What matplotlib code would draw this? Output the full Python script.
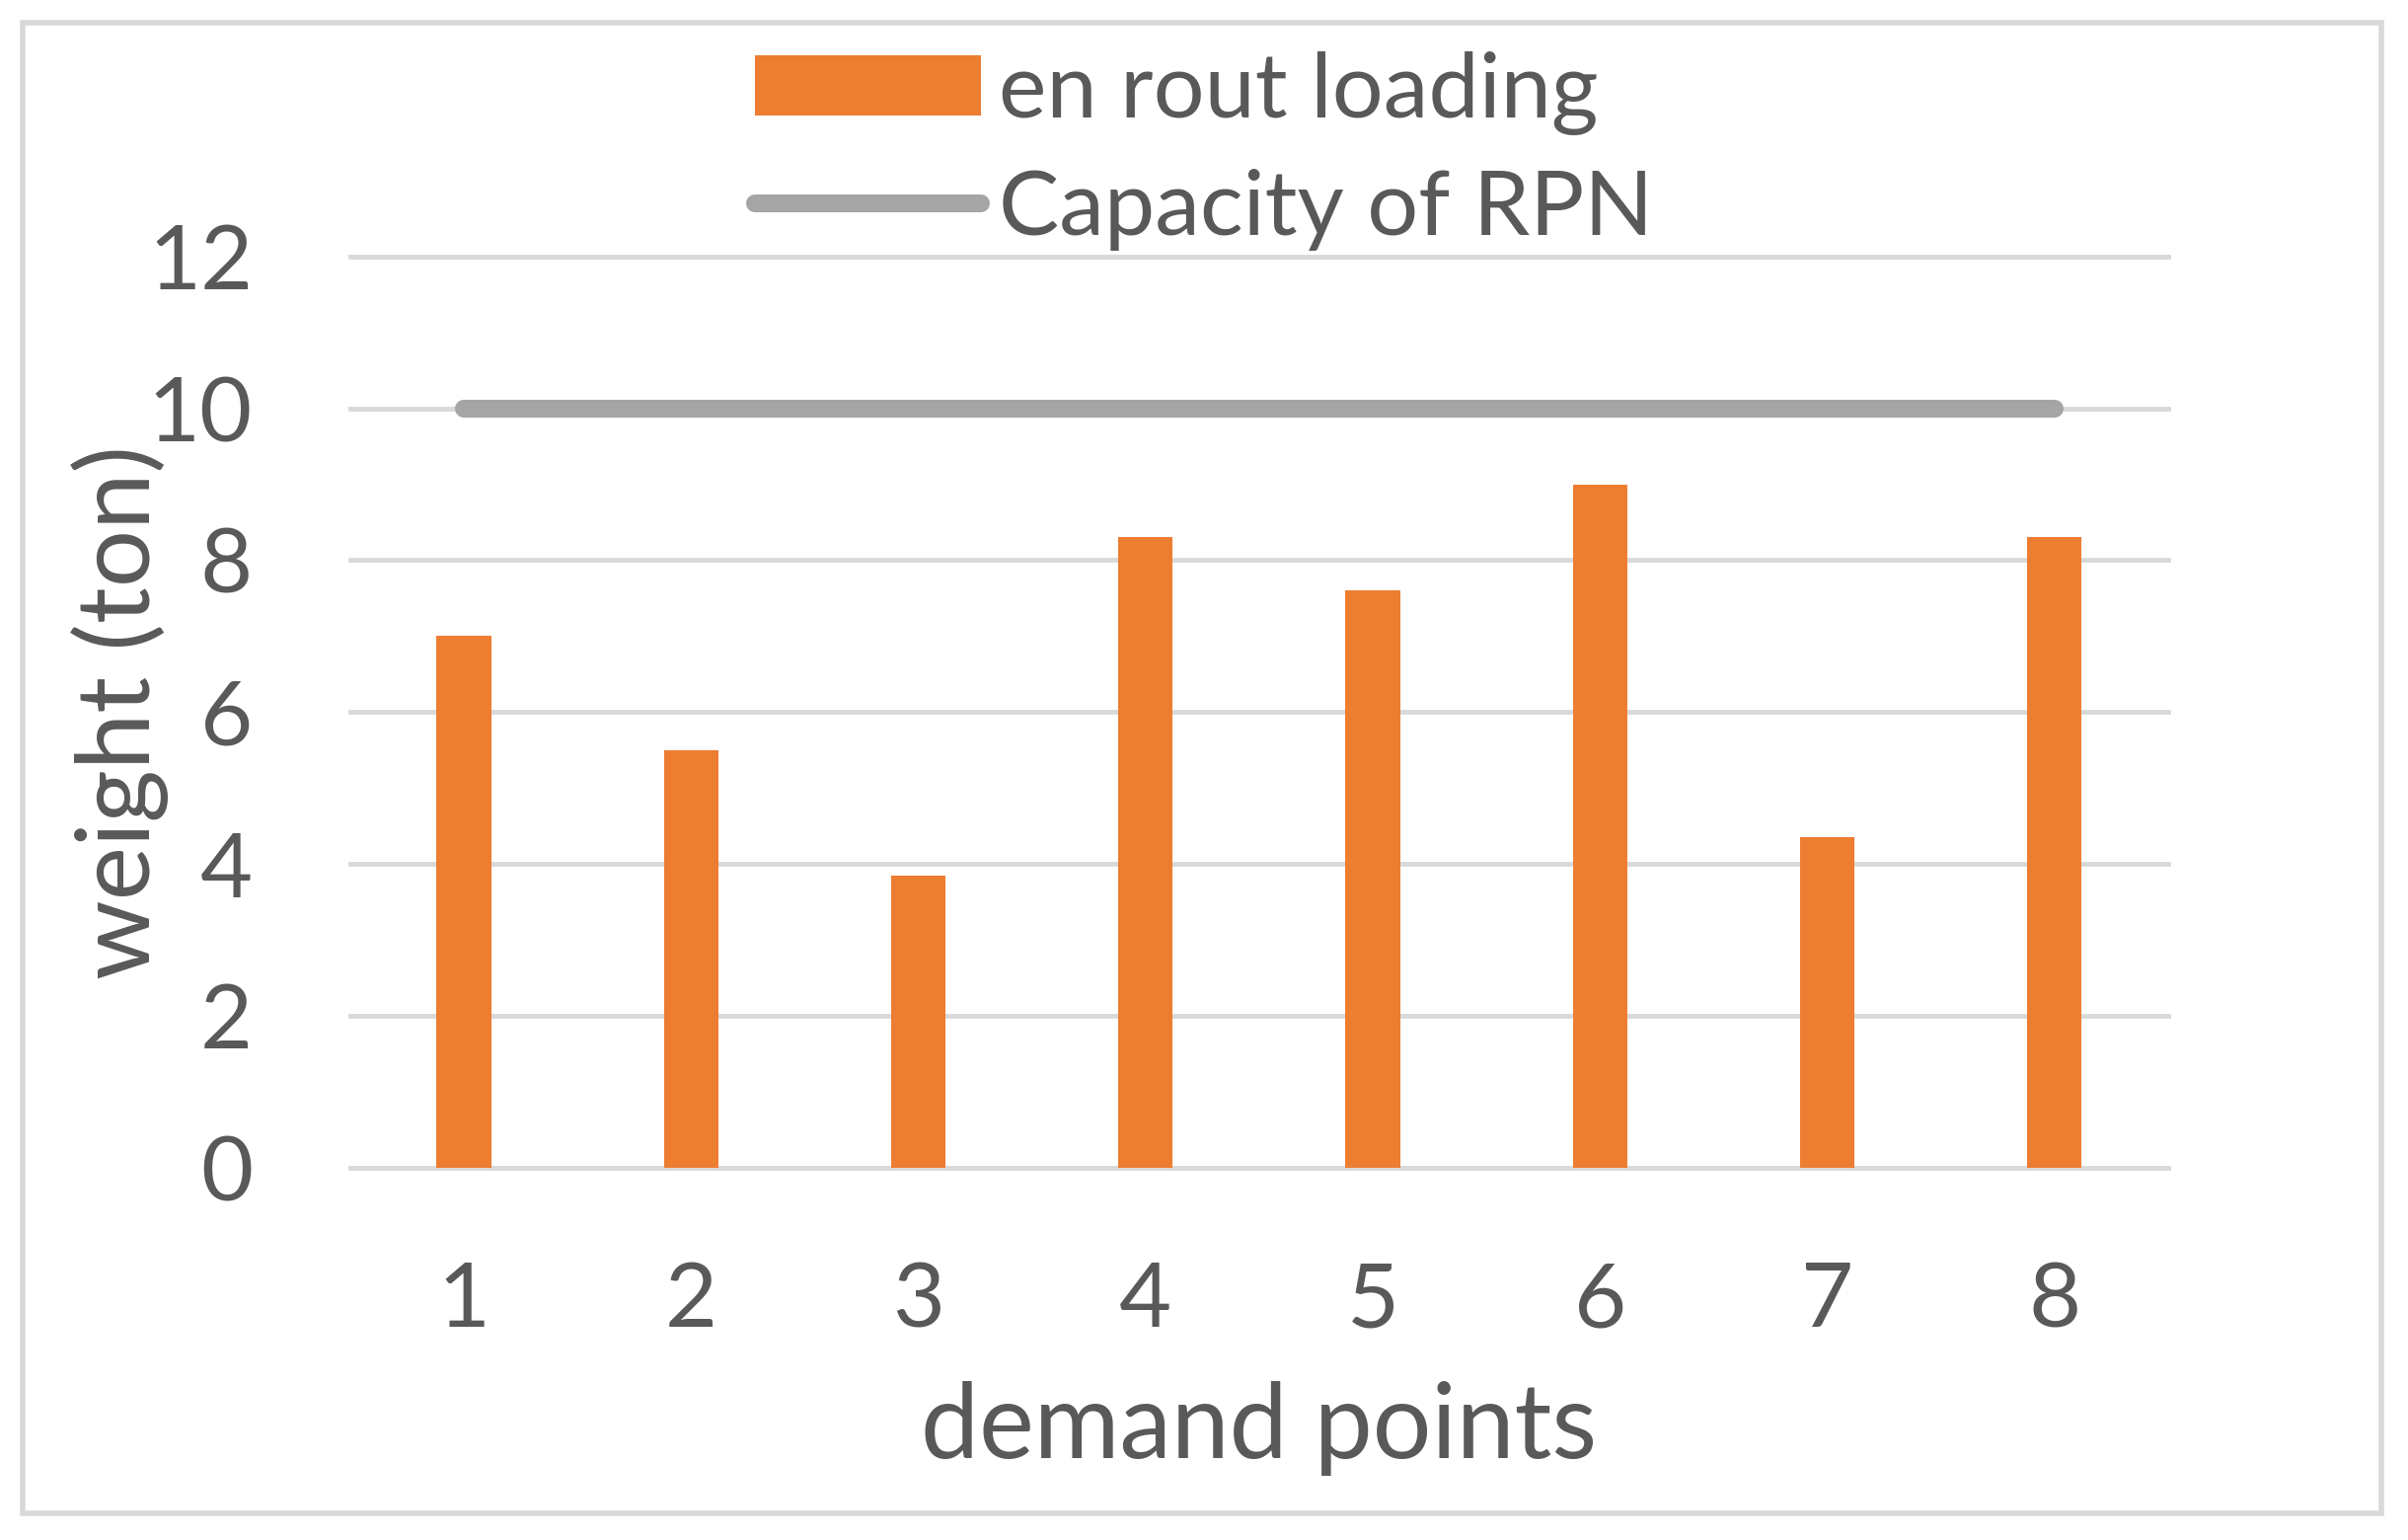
import matplotlib

matplotlib.use("Agg")
import matplotlib.pyplot as plt
from matplotlib.patches import Rectangle

# data
categories = ["1", "2", "3", "4", "5", "6", "7", "8"]
loading = [7.0, 5.5, 3.85, 8.3, 7.6, 9.0, 4.35, 8.3]
capacity = [10, 10, 10, 10, 10, 10, 10, 10]
y_ticks = [0, 2, 4, 6, 8, 10, 12]

ORANGE = "#ed7d31"
GRAY = "#a5a5a5"
GRID = "#d9d9d9"
TEXT = "#595959"

plt.rcParams["font.family"] = ["Lato", "DejaVu Sans"]

fig = plt.figure(figsize=(24.4, 15.6), dpi=100)
ax = fig.add_axes([0.1454, 0.2419, 0.755, 0.5915])

x = list(range(len(categories)))
bars = ax.bar(x, loading, width=0.24, color=ORANGE, label="en rout loading", zorder=3)
(cap_line,) = ax.plot(x, capacity, color=GRAY, lw=13, solid_capstyle="round",
                      label="Capacity of RPN", zorder=4)

ax.set_xlim(-0.5, len(categories) - 0.5)
ax.set_ylim(0, 12)
ax.set_xticks(x)
ax.set_xticklabels(categories)
ax.set_yticks(y_ticks)

for yv in y_ticks:
    ax.axhline(yv, color=GRID, lw=3.5, zorder=1, clip_on=False)

for s in ax.spines.values():
    s.set_visible(False)
ax.tick_params(length=0, labelsize=66, colors=TEXT)
ax.tick_params(axis="y", pad=71)
ax.tick_params(axis="x", pad=68)

ax.set_xlabel("demand points", fontsize=76, color=TEXT, labelpad=28)
ax.set_ylabel("weight (ton)", fontsize=74, color=TEXT)
ax.yaxis.set_label_coords(-0.100, 0.5)

leg = fig.legend([bars, cap_line], ["en rout loading", "Capacity of RPN"],
                 loc="upper center", bbox_to_anchor=(0.5, 1.008), fontsize=66,
                 frameon=False, handlelength=2.5, handleheight=0.65,
                 handletextpad=0.2, labelspacing=0.37, borderpad=0.2)
for t in leg.get_texts():
    t.set_color(TEXT)

# outer chart border
fig.patches.append(Rectangle((0.0095, 0.0173), 0.9795, 0.9680, transform=fig.transFigure,
                             fill=False, edgecolor=GRID, lw=4))

fig.savefig("out.png", dpi=100, facecolor="white")
